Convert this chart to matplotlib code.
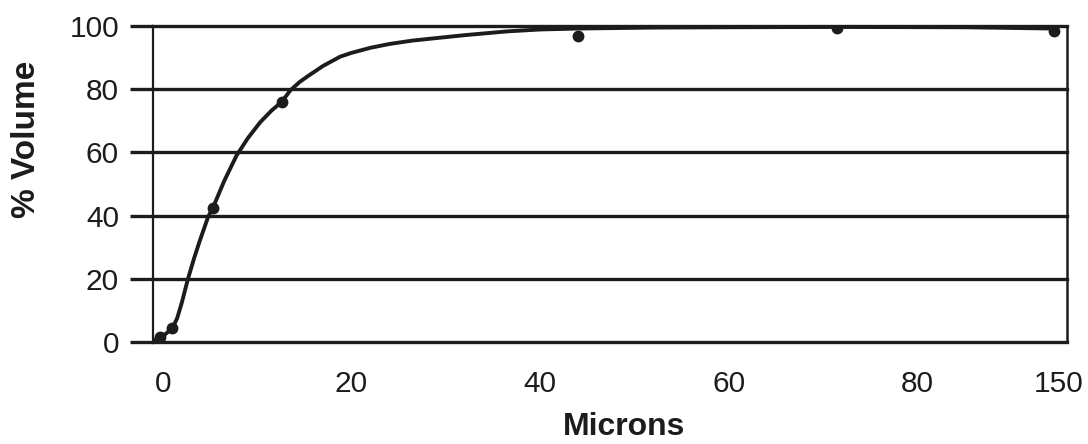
import matplotlib
matplotlib.use("Agg")
import matplotlib.pyplot as plt

# ---- data ----
x_tick_pos = [0, 20, 40, 60, 80, 95]
x_tick_labels = ["0", "20", "40", "60", "80", "150"]
y_ticks = [0, 20, 40, 60, 80, 100]

point_x = [-0.3, 1.0, 5.3, 12.6, 44.0, 71.5, 94.5]
point_y = [1.5, 4.4, 42.5, 76.0, 96.8, 99.5, 98.5]

curve_x = [-1.0, -0.3, 0.3, 1.0, 1.5, 2.0, 2.65, 3.3, 3.9, 4.8, 5.3, 6.5, 7.8,
           9.0, 10.3, 11.5, 12.6, 13.5, 14.5, 15.5, 17.0, 18.8, 20.0, 22.0,
           24.0, 26.5, 29.4, 32.0, 36.5, 40.0, 44.0, 52.0, 60.0, 71.5, 85.0, 94.5]
curve_y = [0.5, 1.5, 2.6, 4.4, 7.5, 12.5, 20.0, 26.5, 32.0, 39.7, 42.5, 51.0,
           59.0, 64.5, 69.5, 73.2, 76.0, 79.6, 82.3, 84.4, 87.4, 90.3, 91.5,
           93.1, 94.3, 95.4, 96.3, 97.1, 98.3, 98.9, 99.2, 99.5, 99.6, 99.7,
           99.6, 99.2]

ink = "#1c1c1c"
plt.rcParams["font.family"] = ["Liberation Sans", "DejaVu Sans"]

fig = plt.figure(figsize=(10.88, 4.44), dpi=100)
ax = fig.add_axes([153 / 1088, 1 - 342 / 444, (1067 - 153) / 1088, (342 - 26) / 444])

ax.set_xlim(-1.06, 95.9)
ax.set_ylim(0, 100)

# horizontal grid lines (extend left as tick marks)
for yv in y_ticks:
    ax.axhline(yv, color=ink, lw=2.4, zorder=1, clip_on=False)

ax.plot(curve_x, curve_y, color=ink, lw=2.8, zorder=3, solid_capstyle="round",
        solid_joinstyle="round")
ax.plot(point_x, point_y, "o", color=ink, ms=7.5, zorder=4)

for side in ["top", "bottom"]:
    ax.spines[side].set_visible(False)
ax.spines["left"].set_color(ink)
ax.spines["left"].set_linewidth(1.6)
ax.spines["right"].set_color(ink)
ax.spines["right"].set_linewidth(1.8)

ax.set_yticks(y_ticks)
ax.set_yticklabels([str(v) for v in y_ticks])
ax.tick_params(axis="y", length=16.5, width=2.4, color=ink, pad=8,
               labelsize=21.5, labelcolor=ink)
ax.set_xticks(x_tick_pos)
ax.set_xticklabels(x_tick_labels)
ax.tick_params(axis="x", length=0, pad=20, labelsize=21.5, labelcolor=ink)

ax.set_xlabel("Microns", fontsize=23, fontweight="bold", color=ink)
ax.xaxis.set_label_coords(0.515, -0.22)
ax.set_ylabel("% Volume", fontsize=24, fontweight="bold", color=ink)
ax.yaxis.set_label_coords(-0.121, 0.64)

fig.savefig("out.png", dpi=100, facecolor="white")
